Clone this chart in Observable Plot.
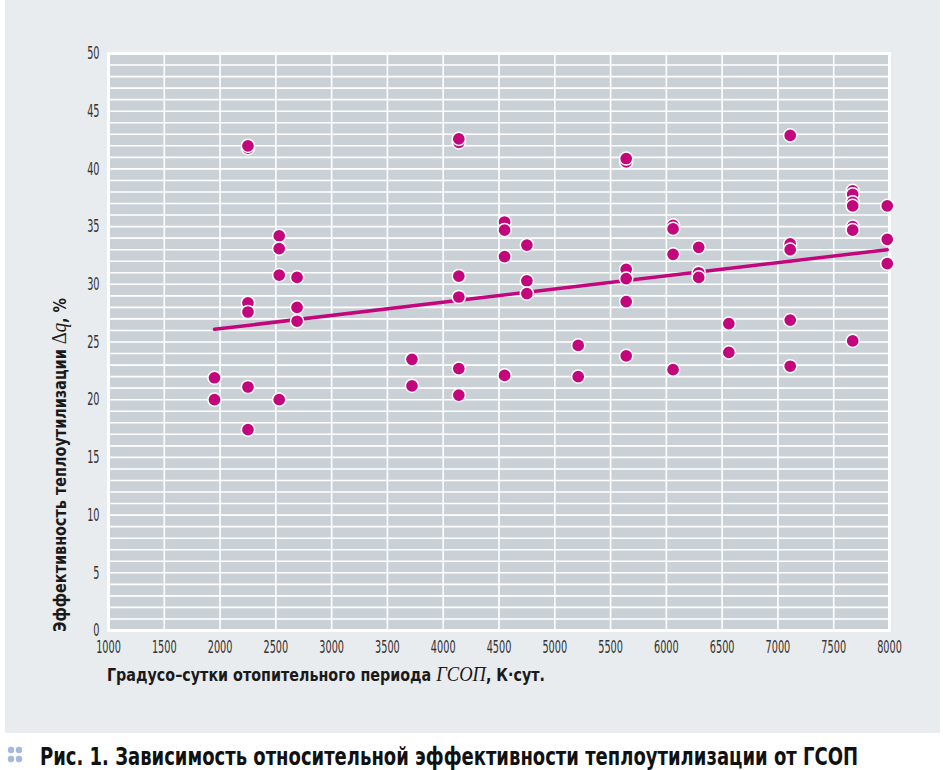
<!DOCTYPE html>
<html>
<head>
<meta charset="utf-8">
<script src="https://cdn.jsdelivr.net/npm/d3@7"></script>
<script src="https://cdn.jsdelivr.net/npm/@observablehq/plot@0.6"></script>
<style>
  html, body { margin: 0; padding: 0; background: #ffffff; }
  #panel { position: absolute; left: 5px; top: 0; width: 935px; height: 733px; background: #e8ecef; }
  #chart { position: absolute; left: 0; top: 0; }
  #cap { position: absolute; left: 0; top: 733px; width: 943px; height: 37px; }
</style>
</head>
<body>
<div id="panel"></div>
<div id="chart"></div>
<div id="cap"></div>
<script>
// ---- data ----
const gsop = [
  1950, 1950,
  2250, 2250, 2250, 2250, 2250, 2250,
  2530, 2530, 2530, 2530,
  2690, 2690, 2690,
  3720, 3720,
  4140, 4140, 4140, 4140, 4140, 4140,
  4550, 4550, 4550, 4550,
  4750, 4750, 4750,
  5210, 5210,
  5640, 5640, 5640, 5640, 5640, 5640,
  6060, 6060, 6060, 6060,
  6290, 6290, 6290,
  6560, 6560,
  7110, 7110, 7110, 7110, 7110,
  7670, 7670, 7670, 7670, 7670, 7670, 7670,
  7980, 7980, 7980
];
const dq = [
  21.9, 20.0,
  41.8, 42.0, 28.4, 27.6, 21.1, 17.4,
  34.2, 33.1, 30.8, 20.0,
  30.6, 28.0, 26.8,
  23.5, 21.2,
  42.3, 42.6, 30.7, 28.9, 22.7, 20.4,
  35.4, 34.7, 32.4, 22.1,
  33.4, 30.3, 29.2,
  24.7, 22.0,
  40.6, 40.9, 31.3, 30.5, 28.5, 23.8,
  35.1, 34.8, 32.6, 22.6,
  33.2, 31.0, 30.6,
  26.6, 24.1,
  42.9, 33.5, 33.0, 26.9, 22.9,
  38.1, 37.8, 37.1, 36.8, 35.0, 34.7, 25.1,
  36.8, 33.9, 31.8
];
// trend line end points
const trendX = [1950, 7980];
const trendY = [26.1, 33.0];
// tick labels
const xTicks = [1000, 1500, 2000, 2500, 3000, 3500, 4000, 4500, 5000, 5500, 6000, 6500, 7000, 7500, 8000];
const yTicks = [0, 5, 10, 15, 20, 25, 30, 35, 40, 45, 50];
const yGrid = d3.range(0, 51, 1);

const points = gsop.map((x, i) => ({x, y: dq[i]}));
const trend = trendX.map((x, i) => ({x, y: trendY[i]}));

const MAG = "#c4067c";
const condFont = "'DejaVu Sans Condensed', 'DejaVu Sans', sans-serif";
const serif = "'Liberation Serif', 'DejaVu Serif', serif";

const chart = Plot.plot({
  width: 943,
  height: 733,
  marginLeft: 108,
  marginRight: 54,
  marginTop: 53,
  marginBottom: 103,
  style: {background: "transparent", fontFamily: condFont, fontSize: "18px", color: "#333333"},
  x: {domain: [1000, 8000]},
  y: {domain: [0, 50]},
  marks: [
    Plot.frame({fill: "#c9d1d7", stroke: "#ffffff", strokeWidth: 3}),
    Plot.gridY(yGrid, {stroke: "#ffffff", strokeOpacity: 1, strokeWidth: 1.6}),
    Plot.gridX(xTicks, {stroke: "#ffffff", strokeOpacity: 1, strokeWidth: 1.6}),
    Plot.axisX(xTicks, {tickSize: 0, tickPadding: 10, label: null, tickFormat: d => String(d), fill: "#333333"}),
    Plot.axisY(yTicks, {tickSize: 0, tickPadding: 9, label: null, tickFormat: d => String(d), fill: "#333333"}),
    Plot.line(trend, {x: "x", y: "y", stroke: MAG, strokeWidth: 3.5}),
    Plot.dot(points, {x: "x", y: "y", r: 6.6, fill: MAG, stroke: "#ffffff", strokeWidth: 1.5})
  ]
});
document.getElementById("chart").appendChild(chart);

function squeeze(node, target) {
  node.setAttribute("textLength", target);
  node.setAttribute("lengthAdjust", "spacingAndGlyphs");
}
// condense tick labels
d3.select(chart).selectAll("g[aria-label='x-axis tick label'] text, g[aria-label='y-axis tick label'] text")
  .each(function() { squeeze(this, this.getComputedTextLength() * 0.6); });

// axis titles with mixed styles
const svg = d3.select(chart);
const xl = svg.append("text")
  .attr("x", 107).attr("y", 681).attr("text-anchor", "start")
  .attr("font-family", condFont).attr("font-weight", "bold").attr("font-size", 18)
  .attr("fill", "#1a1a1a");
xl.append("tspan").text("Градусо–сутки отопительного периода ");
xl.append("tspan").attr("font-family", serif).attr("font-style", "italic").attr("font-weight", "normal").attr("font-size", 21).text("ГСОП");
xl.append("tspan").text(", К·сут.");
squeeze(xl.node(), 438);

const yl = svg.append("text")
  .attr("transform", "translate(66,632) rotate(-90)").attr("text-anchor", "start")
  .attr("font-family", condFont).attr("font-weight", "bold").attr("font-size", 18)
  .attr("fill", "#1a1a1a");
yl.append("tspan").text("Эффективность теплоутилизации ");
yl.append("tspan").attr("font-family", serif).attr("font-weight", "normal").attr("font-size", 21).text("Δ");
yl.append("tspan").attr("font-family", serif).attr("font-style", "italic").attr("font-weight", "normal").attr("font-size", 21).text("q");
yl.append("tspan").text(", %");
squeeze(yl.node(), 334);

// caption
const cap = d3.select("#cap").append("svg").attr("width", 943).attr("height", 37);
const dots = [[11, 17], [19, 17], [11, 26], [19, 26]];
cap.selectAll("circle").data(dots).join("circle")
  .attr("cx", d => d[0]).attr("cy", d => d[1]).attr("r", 3.2).attr("fill", "#a3b9e0");
const ct = cap.append("text")
  .attr("x", 40).attr("y", 32).attr("text-anchor", "start")
  .attr("font-family", condFont).attr("font-weight", "bold").attr("font-size", 25)
  .attr("fill", "#111111")
  .text("Рис. 1. Зависимость относительной эффективности теплоутилизации от ГСОП");
squeeze(ct.node(), 818);
</script>
</body>
</html>
